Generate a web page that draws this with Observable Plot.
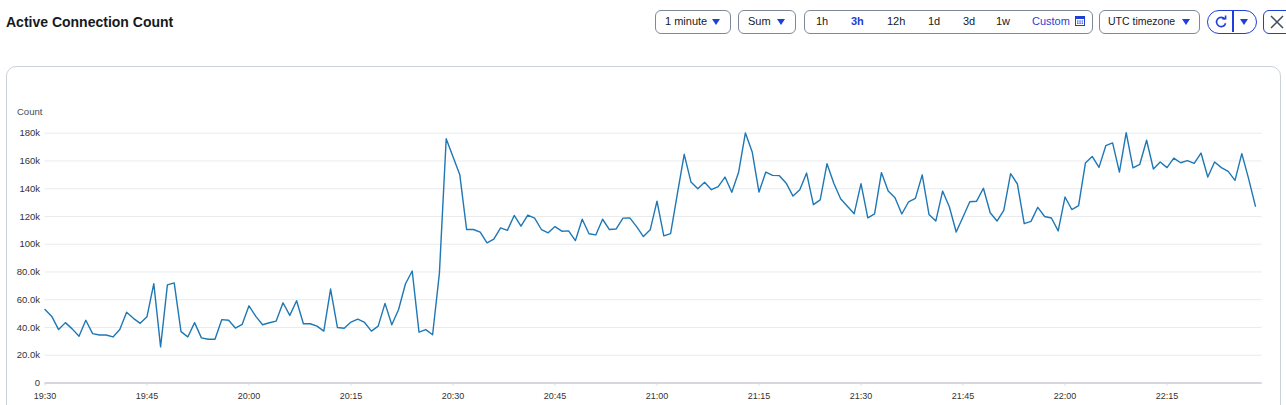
<!DOCTYPE html>
<html>
<head>
<meta charset="utf-8">
<script src="https://cdn.jsdelivr.net/npm/d3@7"></script>
<script src="https://cdn.jsdelivr.net/npm/@observablehq/plot@0.6"></script>
<style>
  html, body { margin: 0; padding: 0; background: #fff; }
  body { width: 1286px; height: 405px; position: relative; overflow: hidden;
         font-family: "Liberation Sans", Arial, Helvetica, sans-serif; color: #16191f; }
  .abs { position: absolute; }
  #title { left: 6px; top: 15px; font-size: 14px; font-weight: bold; line-height: 1; color: #16191f; }
  .btn { position: absolute; top: 10px; height: 24px; box-sizing: border-box;
         border: 1.5px solid #7d8998; border-radius: 6px; background: #fff; font-size: 11px; color: #16191f; }
  .btn span { position: absolute; top: 0; line-height: 21px; white-space: nowrap; }
  .caret { position: absolute; top: 8px; width: 0; height: 0;
           border-left: 4px solid transparent; border-right: 4px solid transparent; border-top: 6px solid #1f3fd6; }
  #panel { left: 6px; top: 66px; width: 1275px; height: 400px; box-sizing: border-box;
           border: 1px solid #ccd1d7; border-radius: 10px; }
  #countLabel { left: 17px; top: 107px; font-size: 9.5px; color: #414d5c; line-height: 1; }
  #chart { left: 0; top: 90px; }
</style>
</head>
<body>
<div id="title" class="abs">Active Connection Count</div>

<div class="btn" style="left:655px;width:76px;"><span style="left:9px;">1 minute</span><div class="caret" style="left:56px;"></div></div>
<div class="btn" style="left:738px;width:58px;"><span style="left:9px;">Sum</span><div class="caret" style="left:38px;"></div></div>
<div class="btn" style="left:804px;width:289px;">
  <span style="left:11px;">1h</span>
  <span style="left:46px;color:#1f3fd6;font-weight:bold;">3h</span>
  <span style="left:82px;">12h</span>
  <span style="left:123px;">1d</span>
  <span style="left:158px;">3d</span>
  <span style="left:191px;">1w</span>
  <span style="left:227px;color:#1f3fd6;">Custom</span>
  <svg class="abs" style="left:270px;top:5px;" width="10" height="10" viewBox="0 0 10 10">
    <rect x="0.5" y="0.5" width="9" height="9" fill="none" stroke="#1f3fd6"/>
    <rect x="0.5" y="0.5" width="9" height="2.5" fill="#1f3fd6"/>
    <path d="M2 5h1.5M4.3 5h1.5M6.6 5h1.5M2 7.2h1.5M4.3 7.2h1.5M6.6 7.2h1.5" stroke="#1f3fd6" stroke-width="1.2"/>
  </svg>
</div>
<div class="btn" style="left:1099px;width:101px;"><span style="left:8px;font-size:10.5px;">UTC timezone</span><div class="caret" style="left:82px;"></div></div>
<div class="btn" style="left:1207px;width:50px;border:1.5px solid #1f3fd6;border-radius:12px;">
  <div class="abs" style="left:24px;top:0;width:1.5px;height:21px;background:#1f3fd6;"></div>
  <svg class="abs" style="left:6px;top:4px;" width="14" height="14" viewBox="0 0 14 14">
    <path d="M10.8 4.2 A4.6 4.6 0 1 0 11.6 8.2" fill="none" stroke="#1f3fd6" stroke-width="1.6"/>
    <path d="M8.2 3.6 L11.6 3.6 L11.6 0.4" fill="none" stroke="#1f3fd6" stroke-width="1.6"/>
  </svg>
  <div class="caret" style="left:32px;top:8px;"></div>
</div>
<div class="btn" style="left:1263px;width:32px;border:1.5px solid #1f3fd6;border-radius:6px;">
  <svg class="abs" style="left:6px;top:4px;" width="14" height="14" viewBox="0 0 14 14">
    <path d="M1 1 L13 13 M13 1 L1 13" stroke="#414d5c" stroke-width="1.5"/>
  </svg>
</div>

<div id="panel" class="abs"></div>
<div id="countLabel" class="abs">Count</div>
<div id="chart" class="abs"></div>

<script>
// Start time (UTC) and one-minute sampling
const startTime = "2024-01-01T19:30:00Z";
const stepMinutes = 1;
const domainEndMinutes = 179;

// Sum of active connections per minute, in thousands (19:30 .. 22:28)
const countK = [
  53, 48, 38.5, 43.5, 39, 33.7, 45.2, 35.6, 34.6, 34.6,
  33.2, 38.5, 51, 46.6, 43, 47.8, 71.6, 26, 70.7, 72.1,
  37, 33.2, 43.5, 32.5, 31.5, 31.5, 45.7, 45.2, 39.6, 42.3,
  55.6, 48, 42, 43.4, 44.6, 57.8, 48.7, 59.3, 42.7, 42.7,
  41, 37.4, 67.7, 40, 39.5, 43.9, 46, 43.6, 37.4, 41,
  57.4, 42, 53, 71.3, 80.7, 36.7, 38.5, 34.8, 79, 176,
  163, 150, 110.6, 110.6, 108.7, 101, 103.6, 111.8, 110, 120.7,
  113, 121, 118.8, 110.6, 108.2, 112.7, 109.4, 109.6, 102.6, 118,
  107.5, 106.7, 118, 110.6, 111, 118.8, 119, 112.7, 105.5, 110.4,
  131, 106, 107.6, 136.4, 164.8, 144.8, 140, 144.6, 139.3, 141.5,
  148.4, 137.4, 151.8, 180.2, 166.5, 137.6, 152, 149.6, 149.4, 144,
  134.7, 139.3, 151.3, 128.5, 132, 158, 144, 132.8, 127.3, 122,
  143.6, 119, 121.8, 151.6, 138.3, 133.5, 121.8, 130.6, 133, 150,
  121.5, 116.7, 138.3, 126.8, 108.8, 119.6, 130.6, 131, 140.3, 122.7,
  116.7, 124.4, 150.8, 143.4, 114.8, 116.5, 126.6, 120, 118.9, 109.6,
  134, 125, 127.8, 158.5, 163.3, 155.4, 171, 173, 152, 180.4,
  155, 157.6, 174.9, 154.2, 159.3, 155.2, 162, 158.7, 160.2, 158.3,
  165.7, 148.4, 159.3, 155.2, 152.5, 146, 165.3, 147.3, 127.5
];

// Y axis ticks and their labels
const yTicks = [0, 20000, 40000, 60000, 80000, 100000, 120000, 140000, 160000, 180000];
const yTickLabels = ["0", "20.0k", "40.0k", "60.0k", "80.0k", "100k", "120k", "140k", "160k", "180k"];

// X axis tick labels (UTC)
const xTickLabels = ["19:30", "19:45", "20:00", "20:15", "20:30", "20:45", "21:00", "21:15", "21:30", "21:45", "22:00", "22:15"];

const t0 = new Date(startTime).getTime();
const data = countK.map((v, i) => ({ time: new Date(t0 + i * stepMinutes * 60000), count: v * 1000 }));
const xTicks = xTickLabels.map(s => {
  const [h, m] = s.split(":").map(Number);
  return new Date(Date.UTC(2024, 0, 1, h, m));
});

const chart = Plot.plot({
  width: 1286,
  height: 315,
  marginLeft: 44.5,
  marginRight: 24.3,
  marginTop: 42.7,
  marginBottom: 22.5,
  style: { fontFamily: "'Liberation Sans', Arial, sans-serif", fontSize: "9.5px", background: "transparent", color: "#414d5c" },
  x: { type: "utc", domain: [new Date(t0), new Date(t0 + domainEndMinutes * 60000)] },
  y: { domain: [0, 180000] },
  marks: [
    Plot.gridY(yTicks.slice(1), { stroke: "#e9ebed", strokeOpacity: 1, strokeWidth: 1 }),
    Plot.ruleY([0], { stroke: "#c6cbd1", strokeWidth: 1.5 }),
    Plot.axisY({ ticks: yTicks, tickFormat: (d, i) => yTickLabels[yTicks.indexOf(d)], tickSize: 0, tickPadding: 5, label: null, fill: "#333", fontSize: 9.5 }),
    Plot.axisX({ ticks: xTicks, tickFormat: (d, i) => xTickLabels[i], tickSize: 3, tickPadding: 7, label: null, stroke: "#d5dbe1", fill: "#333", fontSize: 9 }),
    Plot.lineY(data, { x: "time", y: "count", stroke: "#1f77b4", strokeWidth: 1.4 })
  ]
});
document.getElementById("chart").appendChild(chart);
</script>
</body>
</html>
